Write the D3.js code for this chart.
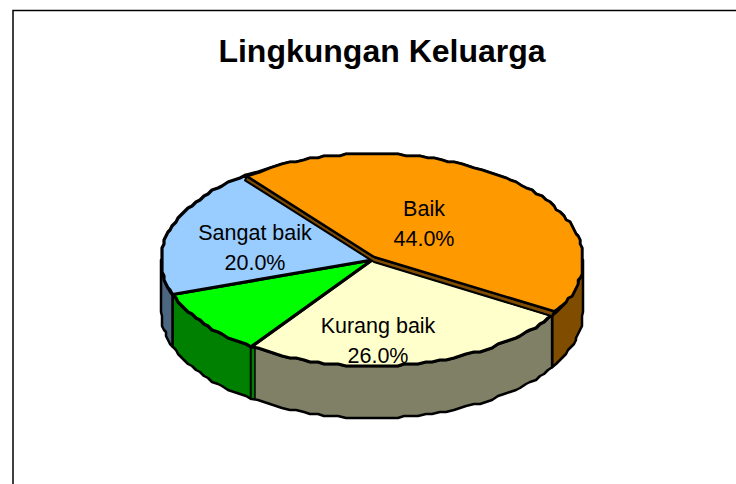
<!DOCTYPE html>
<html>
<head>
<meta charset="utf-8">
<script src="https://cdn.jsdelivr.net/npm/d3@7"></script>
<style>
  html, body { margin: 0; background: #fff; }
  text { font-family: "Liberation Sans", Arial, sans-serif; fill: #000; }
</style>
</head>
<body>
<svg id="chart" width="736" height="484" style="display:block"></svg>
<script>
const categories = ["Baik", "Kurang baik", "Cukup", "Sangat baik"];
const values = [44, 26, 10, 20];
const topColors = ["#ff9900", "#ffffcc", "#00ff00", "#99ccff"];
const sideColors = ["#804d00", "#808066", "#008000", "#4d6680"];
const labelled = [true, true, false, true];
const labelPos = [[424, 224], [378, 341], null, [255, 248]];

const svg = d3.select("#chart");
const cx = 372, cy = 260, rx = 211, ry = 106, depth = 52;
const startAngle = 323 * Math.PI / 180;

// Chart frame, the picture cuts it off at the right and bottom
svg.append("path")
  .attr("d", "M13,484V10.5H736")
  .attr("fill", "none")
  .attr("stroke", "#000")
  .attr("stroke-width", 1.5);

svg.append("text")
  .attr("x", 382).attr("y", 62)
  .attr("text-anchor", "middle")
  .attr("font-size", 32)
  .attr("font-weight", "bold")
  .text("Lingkungan Keluarga");

const pie = d3.pie().sort(null).startAngle(startAngle).endAngle(startAngle + 2 * Math.PI);
const slices = pie(values);

// Project a pie angle onto the tilted ellipse
const px = a => cx + rx * Math.sin(a);
const py = a => cy - ry * Math.cos(a);
const line = d3.line();
const snap = v => Math.round(v / 2) * 2;

// The reference rim is slightly stepped, so snap it to a small grid
function rimPoints(s, dy) {
  const n = Math.ceil((s.endAngle - s.startAngle) / 0.035);
  return d3.range(n + 1).map(i => {
    const a = s.startAngle + (s.endAngle - s.startAngle) * i / n;
    const onEnd = i === 0 || i === n;
    return onEnd ? [px(a), py(a) + dy] : [snap(px(a)), snap(py(a)) + dy];
  });
}

// Only the front half of the rim is visible as a wall
function wallPoints(s) {
  const lo = Math.max(s.startAngle - 2 * Math.PI, Math.PI / 2);
  const hi = Math.min(s.endAngle - 2 * Math.PI, 3 * Math.PI / 2);
  if (hi <= lo) return null;
  const part = { startAngle: lo, endAngle: hi };
  return rimPoints(part, 0).concat(rimPoints(part, depth).reverse());
}

svg.append("g").selectAll("path")
  .data(slices)
  .join("path")
  .attr("d", d => {
    const w = wallPoints(d);
    return w ? line(w) + "Z" : null;
  })
  .attr("fill", (d, i) => sideColors[i])
  .attr("stroke", "#000")
  .attr("stroke-width", 2.5)
  .attr("stroke-linejoin", "round");

// Cut face of the green slice, showing between the green and cream walls
const seamX = px(slices[2].startAngle);
const seamY = py(slices[2].startAngle);
svg.append("path")
  .attr("d", line([[seamX, seamY], [seamX + 4, seamY + 1], [seamX + 4, seamY + depth], [seamX, seamY + depth]]) + "Z")
  .attr("fill", sideColors[2])
  .attr("stroke", "#000")
  .attr("stroke-width", 1.5);

// Tops
svg.append("g").selectAll("path")
  .data(slices)
  .join("path")
  .attr("d", d => line([[cx, cy]].concat(rimPoints(d, 0))) + "Z")
  .attr("fill", (d, i) => topColors[i])
  .attr("stroke", "#000")
  .attr("stroke-width", 3.2)
  .attr("stroke-linejoin", "round");

// The pulled-out Baik slice shows a thin brown wall along its cut edges
const baik = slices[0];
const edgeA = [px(baik.startAngle), py(baik.startAngle)];
const edgeB = [px(baik.endAngle), py(baik.endAngle)];
const strip = [
  [edgeA[0] + 2, edgeA[1] + 1], [cx + 2, cy - 3], [edgeB[0] + 2, edgeB[1] - 4],
  [edgeB[0], edgeB[1] + 1], [cx + 2, cy + 2], [edgeA[0], edgeA[1] + 5]
];
svg.append("path")
  .attr("d", line(strip) + "Z")
  .attr("fill", sideColors[0])
  .attr("stroke", "#000")
  .attr("stroke-width", 2)
  .attr("stroke-linejoin", "round");

svg.append("path")
  .attr("d", line([[cx + 2, cy - 3]].concat(rimPoints(baik, 0).map((p, i, arr) => {
    const t = Math.min(i, arr.length - 1 - i);
    const k = t < 4 ? 1 - t / 4 : 0;
    return [p[0] + 2 * k, p[1] + (i < arr.length / 2 ? 1 : -4) * k];
  }))) + "Z")
  .attr("fill", topColors[0])
  .attr("stroke", "#000")
  .attr("stroke-width", 2.5)
  .attr("stroke-linejoin", "round");

// Labels
const labels = svg.append("g").selectAll("g")
  .data(slices.filter((d, i) => labelled[i]))
  .join("g")
  .attr("transform", d => `translate(${labelPos[d.index][0]},${labelPos[d.index][1]})`);
labels.append("text")
  .attr("text-anchor", "middle").attr("font-size", 21.5)
  .attr("y", -8)
  .text(d => categories[d.index]);
labels.append("text")
  .attr("text-anchor", "middle").attr("font-size", 21.5)
  .attr("y", 22)
  .text(d => d.value.toFixed(1) + "%");
</script>
</body>
</html>
